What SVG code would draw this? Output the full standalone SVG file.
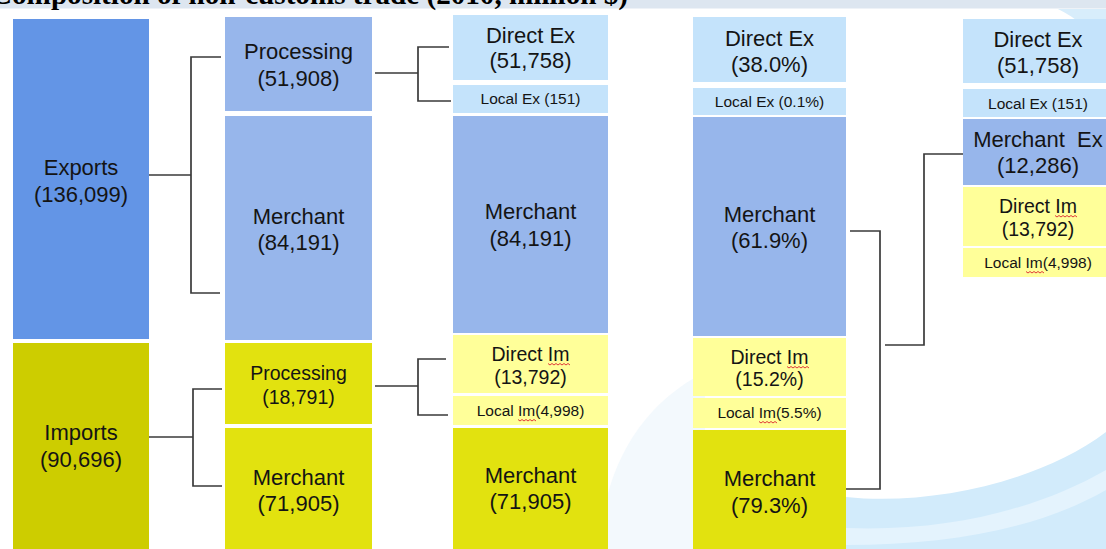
<svg xmlns="http://www.w3.org/2000/svg" width="1106" height="549" viewBox="0 0 1106 549">
<style>
.t22{font-family:"Liberation Sans",Arial,sans-serif;font-size:22px;fill:#141414;text-anchor:middle}
.t19{font-family:"Liberation Sans",Arial,sans-serif;font-size:19.5px;fill:#141414;text-anchor:middle}
.t15{font-family:"Liberation Sans",Arial,sans-serif;font-size:15.5px;fill:#141414;text-anchor:middle}
.exp{fill:#6395e6}
.imp{fill:#cdcd00}
.bl{fill:#97b6eb}
.lb{fill:#c4e3fb}
.ye{fill:#e2e20f}
.ly{fill:#ffff99}
.conn{fill:none;stroke:#3a3a3a;stroke-width:1.7}
.sq{fill:none;stroke:#e03a3a;stroke-width:1}
</style>
<rect x="0" y="0" width="1106" height="549" fill="#ffffff"/>
<g id="background">
<path d="M600 549 C602 470 640 405 705 372 L705 549 Z" fill="#f3f9fd"/>
<path d="M846 497 C930 506 1040 482 1106 432 L1106 549 L846 549 Z" fill="#d2ebfb"/>
<path d="M846 528 C950 532 1040 508 1106 470 L1106 490 C1040 528 950 545 846 545 Z" fill="#e4f3fd"/>
<path d="M1058 9 L1106 9 L1106 46 C1090 30 1076 18 1058 9 Z" fill="#d8edfb"/>
<rect x="0" y="0" width="1106" height="8.5" fill="#dde6f0"/>
<text x="-9" y="4" textLength="637" lengthAdjust="spacingAndGlyphs" font-family="'Liberation Serif','Times New Roman',serif" font-weight="bold" font-size="30" fill="#000">Composition of non-customs trade (2010, million $)</text>
</g>
<g id="connectors">
<path class="conn" d="M149 175 H191"/>
<path class="conn" d="M221 57 H191 V293 H220"/>
<path class="conn" d="M149 437 H193"/>
<path class="conn" d="M222 389 H193 V486 H222"/>
<path class="conn" d="M375 73 H418"/>
<path class="conn" d="M449 47 H418 V101 H451"/>
<path class="conn" d="M375 386 H418"/>
<path class="conn" d="M446 359 H418 V415 H448"/>
<path class="conn" d="M850 231 H880 V489 H846"/>
<path class="conn" d="M885 345 H924 V154 H964"/>
</g>
<g id="exports"><rect class="exp" x="13" y="19" width="136" height="320"/><text class="t22" x="81" y="175">Exports</text><text class="t22" x="81" y="202">(136,099)</text></g>
<g id="imports"><rect class="imp" x="13" y="343" width="136" height="206"/><text class="t22" x="81" y="440">Imports</text><text class="t22" x="81" y="467">(90,696)</text></g>
<g id="processing-ex"><rect class="bl" x="225" y="17" width="147" height="94"/><text class="t22" x="298.5" y="59">Processing</text><text class="t22" x="298.5" y="86">(51,908)</text></g>
<g id="merchant-ex"><rect class="bl" x="225" y="116" width="147" height="224"/><text class="t22" x="298.5" y="224">Merchant</text><text class="t22" x="298.5" y="250">(84,191)</text></g>
<g id="processing-im"><rect class="ye" x="225" y="343" width="147" height="81"/><text class="t19" x="298.5" y="380">Processing</text><text class="t19" x="298.5" y="404">(18,791)</text></g>
<g id="merchant-im"><rect class="ye" x="225" y="428" width="147" height="121"/><text class="t22" x="298.5" y="485">Merchant</text><text class="t22" x="298.5" y="511">(71,905)</text></g>
<g id="c3-direct-ex"><rect class="lb" x="453" y="15" width="155" height="65"/><text class="t22" x="530.5" y="43">Direct Ex</text><text class="t22" x="530.5" y="68">(51,758)</text></g>
<g id="c3-local-ex"><rect class="lb" x="453" y="85" width="155" height="28"/><text class="t15" x="530.5" y="104">Local Ex (151)</text></g>
<g id="c3-merchant-ex"><rect class="bl" x="453" y="116" width="155" height="217"/><text class="t22" x="530.5" y="219">Merchant</text><text class="t22" x="530.5" y="246">(84,191)</text></g>
<g id="c3-direct-im"><rect class="ly" x="453" y="335" width="155" height="58"/><text class="t19" x="530.5" y="361">Direct Im</text><text class="t19" x="530.5" y="384">(13,792)</text><path class="sq" d="M548 363.5 l2 1.5 l2 -1.5 l2 1.5 l2 -1.5 l2 1.5 l2 -1.5 l2 1.5 l2 -1.5 l2 1.5 l2 -1.5 l2 1.5"/></g>
<g id="c3-local-im"><rect class="ly" x="453" y="396" width="155" height="29"/><text class="t15" x="530.5" y="416">Local Im(4,998)</text><path class="sq" d="M518 419.5 l2 1.5 l2 -1.5 l2 1.5 l2 -1.5 l2 1.5 l2 -1.5 l2 1.5 l2 -1.5 l2 1.5"/></g>
<g id="c3-merchant-im"><rect class="ye" x="453" y="428" width="155" height="121"/><text class="t22" x="530.5" y="483">Merchant</text><text class="t22" x="530.5" y="509">(71,905)</text></g>
<g id="c4-direct-ex"><rect class="lb" x="693" y="17" width="153" height="65"/><text class="t22" x="769.5" y="46">Direct Ex</text><text class="t22" x="769.5" y="72">(38.0%)</text></g>
<g id="c4-local-ex"><rect class="lb" x="693" y="88" width="153" height="27"/><text class="t15" x="769.5" y="107">Local Ex (0.1%)</text></g>
<g id="c4-merchant-ex"><rect class="bl" x="693" y="117" width="153" height="219"/><text class="t22" x="769.5" y="222">Merchant</text><text class="t22" x="769.5" y="248">(61.9%)</text></g>
<g id="c4-direct-im"><rect class="ly" x="693" y="338" width="153" height="58"/><text class="t19" x="769.5" y="364">Direct Im</text><text class="t19" x="769.5" y="386">(15.2%)</text><path class="sq" d="M787 366.5 l2 1.5 l2 -1.5 l2 1.5 l2 -1.5 l2 1.5 l2 -1.5 l2 1.5 l2 -1.5 l2 1.5 l2 -1.5 l2 1.5"/></g>
<g id="c4-local-im"><rect class="ly" x="693" y="398" width="153" height="30"/><text class="t15" x="769.5" y="418">Local Im(5.5%)</text><path class="sq" d="M759 421.5 l2 1.5 l2 -1.5 l2 1.5 l2 -1.5 l2 1.5 l2 -1.5 l2 1.5 l2 -1.5 l2 1.5"/></g>
<g id="c4-merchant-im"><rect class="ye" x="693" y="430" width="153" height="119"/><text class="t22" x="769.5" y="486">Merchant</text><text class="t22" x="769.5" y="513">(79.3%)</text></g>
<g id="c5-direct-ex"><rect class="lb" x="963" y="19" width="150" height="64"/><text class="t22" x="1038" y="47">Direct Ex</text><text class="t22" x="1038" y="73">(51,758)</text></g>
<g id="c5-local-ex"><rect class="lb" x="963" y="89" width="150" height="28"/><text class="t15" x="1038" y="109">Local Ex (151)</text></g>
<g id="c5-merchant-ex"><rect class="bl" x="963" y="119" width="150" height="66"/><text class="t22" x="1038" y="147" xml:space="preserve">Merchant  Ex</text><text class="t22" x="1038" y="173">(12,286)</text></g>
<g id="c5-direct-im"><rect class="ly" x="963" y="187" width="150" height="59"/><text class="t19" x="1038" y="213">Direct Im</text><text class="t19" x="1038" y="236">(13,792)</text><path class="sq" d="M1055 215.5 l2 1.5 l2 -1.5 l2 1.5 l2 -1.5 l2 1.5 l2 -1.5 l2 1.5 l2 -1.5 l2 1.5 l2 -1.5 l2 1.5"/></g>
<g id="c5-local-im"><rect class="ly" x="963" y="248" width="150" height="29"/><text class="t15" x="1038" y="268">Local Im(4,998)</text><path class="sq" d="M1026 271.5 l2 1.5 l2 -1.5 l2 1.5 l2 -1.5 l2 1.5 l2 -1.5 l2 1.5 l2 -1.5 l2 1.5"/></g>
</svg>
